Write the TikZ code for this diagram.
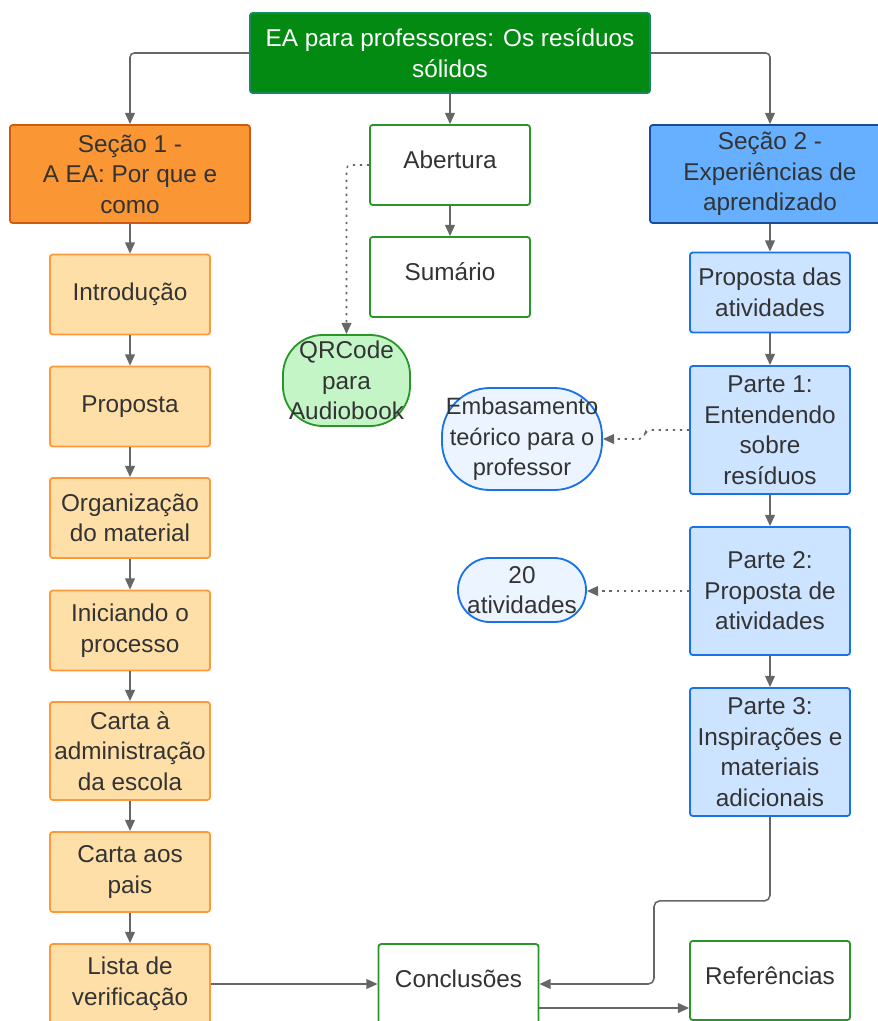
\documentclass[tikz,border=0pt]{standalone}
\usepackage{fontspec}
\setmainfont{Liberation Sans}
\usetikzlibrary{positioning}
\usetikzlibrary{calc}
\usetikzlibrary{arrows.meta}
\definecolor{titlegreen}{RGB}{3,138,18}
\definecolor{titleedge}{RGB}{25,135,95}
\definecolor{secorange}{RGB}{251,150,52}
\definecolor{secorangeedge}{RGB}{205,90,15}
\definecolor{secblue}{RGB}{102,176,255}
\definecolor{secblueedge}{RGB}{25,75,150}
\definecolor{lorange}{RGB}{255,223,168}
\definecolor{lorangeedge}{RGB}{255,154,58}
\definecolor{lblue}{RGB}{204,228,255}
\definecolor{lblueedge}{RGB}{25,115,232}
\definecolor{pblue}{RGB}{235,244,255}
\definecolor{boxgreen}{RGB}{40,150,40}
\definecolor{qrgreen}{RGB}{196,245,198}
\definecolor{txtgray}{RGB}{51,51,51}
\definecolor{linegray}{RGB}{102,102,102}
\newcommand{\lift}[1]{\raisebox{3.5pt}[\height][\depth]{#1}}

\begin{document}
\begin{tikzpicture}[x=0.025cm, y=-0.025cm,
	box/.style={draw, rounded corners=2pt, line width=1.3pt, minimum width=4cm, minimum height=2cm, inner sep=0pt, align=center, text=txtgray, font=\fontsize{17.3}{21.7}\selectfont},
	orangebox/.style={box, fill=lorange, draw=lorangeedge},
	bluebox/.style={box, fill=lblue, draw=lblueedge},
	whitebox/.style={box, fill=white, draw=boxgreen},
	pill/.style={box, fill=pblue, draw=lblueedge},
	line/.style={draw=linegray, line width=1.1pt, -{Triangle[length=8pt,width=7pt]}},
	dotline/.style={line, dash pattern=on 1.6pt off 3.4pt}]
	\useasboundingbox (0,0) rectangle (878,1021);
	% Title
	\node[box, fill=titlegreen, draw=titleedge, text=white, minimum width=10cm] (title) at (450,53) {EA para professores: Os resíduos\\sólidos};
	% Sections
	\node[box, fill=secorange, draw=secorangeedge, minimum width=6cm, minimum height=2.45cm] (sec1) at (130,174) {Seção 1 -\\A EA: Por que e\\como};
	\node[box, fill=secblue, draw=secblueedge, minimum width=6cm, minimum height=2.45cm] (sec2) at (770,174) {Seção 2 -\\Experiências de\\aprendizado};
	% Middle column
	\node[whitebox] (abert) at (450,165) {\lift{Abertura}};
	\node[whitebox] (sum) at (450,277) {\lift{Sumário}};
	\node[box, fill=qrgreen, draw=boxgreen, rounded corners=1cm, minimum width=3.175cm, minimum height=2.275cm] (qr) at (346.5,380.5) {QRCode\\para\\Audiobook};
	% Left column
	\node[orangebox] (intro) at (130,294.5) {Introdução};
	\node[orangebox] (prop) at (130,406.5) {Proposta};
	\node[orangebox] (org) at (130,518) {Organização\\do material};
	\node[orangebox] (inic) at (130,630.5) {Iniciando o\\processo};
	\node[orangebox, minimum height=2.45cm] (carta) at (130,751) {Carta à\\administração\\da escola};
	\node[orangebox] (pais) at (130,872) {Carta aos\\pais};
	\node[orangebox] (lista) at (130,984) {Lista de\\verificação};
	% Right column
	\node[bluebox] (propat) at (770,292.5) {Proposta das\\atividades};
	\node[bluebox, minimum height=3.2cm] (p1) at (770,430) {Parte 1:\\Entendendo\\sobre\\resíduos};
	\node[bluebox, minimum height=3.2cm] (p2) at (770,591) {Parte 2:\\Proposta de\\atividades};
	\node[bluebox, minimum height=3.2cm] (p3) at (770,752) {Parte 3:\\Inspirações e\\materiais\\adicionais};
	\node[pill, rounded corners=1.2cm, minimum height=2.55cm, font=\fontsize{16.8}{21.7}\selectfont] (emb) at (522,439) {Embasamento\\teórico para o\\professor};
	\node[pill, rounded corners=0.8cm, minimum width=3.2cm, minimum height=1.6cm] (ativ) at (522,590) {20\\atividades};
	% Bottom
	\node[whitebox] (concl) at (458.5,984) {\lift{Conclusões}};
	\node[whitebox, minimum height=1.975cm] (ref) at (770,980.5) {\lift{Referências}};
	% Connections
	\draw[line, rounded corners=3pt] (title.west) -| (sec1.north);
	\draw[line] (title.south) -- (abert.north);
	\draw[line, rounded corners=3pt] (title.east) -| (sec2.north);
	\draw[line] (abert) -- (sum);
	\draw[dotline, rounded corners=3pt] (abert.west) -| (qr.north);
	\draw[line] (sec1) -- (intro);
	\draw[line] (intro) -- (prop);
	\draw[line] (prop) -- (org);
	\draw[line] (org) -- (inic);
	\draw[line] (inic) -- (carta);
	\draw[line] (carta) -- (pais);
	\draw[line] (pais) -- (lista);
	\draw[line] (sec2) -- (propat);
	\draw[line] (propat) -- (p1);
	\draw[line] (p1) -- (p2);
	\draw[line] (p2) -- (p3);
	\draw[dotline, rounded corners=4pt] (p1.west) -- ++(-44,0) |- (emb.east);
	\draw[dotline] (p2.west) -- (p2.west -| ativ.east);
	\draw[line, rounded corners=4pt] (p3.south) -- ++(0,84) -- ++(-116,0) |- (concl.east);
	\draw[line] (lista) -- (concl);
	\coordinate (cr) at ([yshift=-0.6cm]concl.east);
	\draw[line] (cr) -- (cr -| ref.west);
\end{tikzpicture}
\end{document}
